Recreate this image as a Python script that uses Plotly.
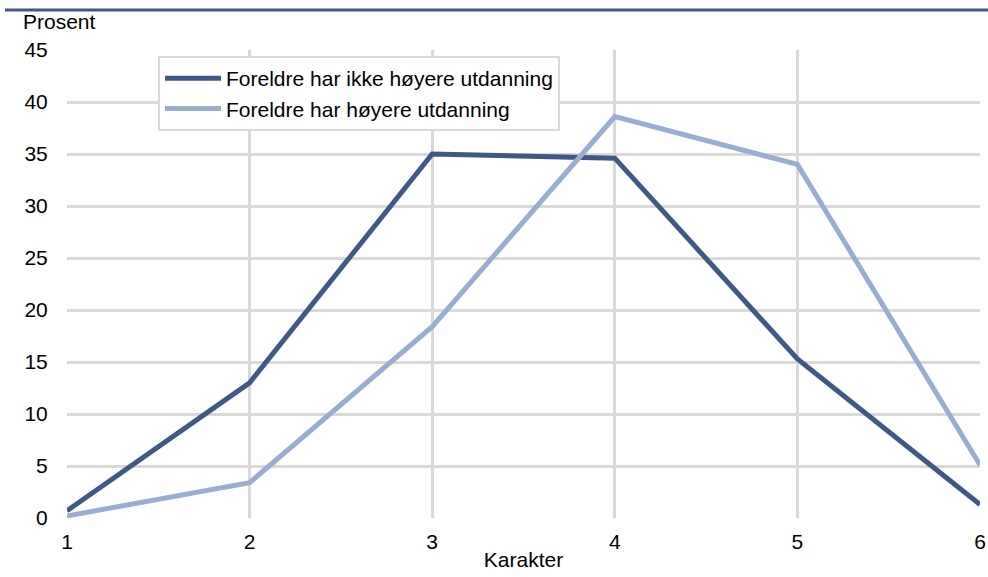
import plotly.graph_objects as go

karakter = [1, 2, 3, 4, 5, 6]
ikke_hoyere = [0.7, 13.0, 35.0, 34.6, 15.3, 1.3]
hoyere = [0.2, 3.4, 18.4, 38.6, 34.0, 5.1]
y_ticks = [0, 5, 10, 15, 20, 25, 30, 35, 40, 45]

dark = "#3f5984"
light = "#98add0"
grid = "#d9d9d9"
font = "Liberation Sans, Arial, sans-serif"
fs = 21

fig = go.Figure()
fig.add_trace(go.Scatter(x=karakter, y=ikke_hoyere, mode="lines",
                         name="Foreldre har ikke høyere utdanning",
                         line=dict(color=dark, width=5), cliponaxis=False))
fig.add_trace(go.Scatter(x=karakter, y=hoyere, mode="lines",
                         name="Foreldre har høyere utdanning",
                         line=dict(color=light, width=5), cliponaxis=False))

W, H = 988, 577
L, R, T, B = 67, 8, 50, 59
pw, ph = W - L - R, H - T - B

fig.update_layout(
    width=W, height=H,
    margin=dict(l=L, r=R, t=T, b=B, pad=0, autoexpand=False),
    paper_bgcolor="white", plot_bgcolor="white",
    font=dict(family=font, size=fs, color="#000000"),
    showlegend=True,
    legend=dict(x=(158 - L) / pw, y=(H - B - 56) / ph, xanchor="left", yanchor="top",
                bordercolor=grid, borderwidth=2, bgcolor="white",
                font=dict(size=fs), tracegroupgap=0, itemwidth=56),
    xaxis=dict(range=[1, 6], tickvals=karakter, showgrid=True, gridcolor=grid, gridwidth=3,
               zeroline=False, showline=False, ticks="outside", ticklen=5, tickcolor="rgba(0,0,0,0)",
               automargin=False,
               title=dict(text="Karakter", font=dict(size=fs), standoff=0)),
    yaxis=dict(range=[0, 45], tickvals=y_ticks, showgrid=True, gridcolor=grid, gridwidth=3,
               zeroline=False, showline=False, ticks="outside", ticklen=14, tickcolor="rgba(0,0,0,0)",
               automargin=False),
    shapes=[dict(type="line", xref="paper", yref="paper",
                 x0=(5 - L) / pw, x1=(990 - L) / pw,
                 y0=(H - B - 10) / ph, y1=(H - B - 10) / ph,
                 line=dict(color="#3f5984", width=3))],
    annotations=[dict(text="Prosent", xref="paper", yref="paper",
                      x=(21 - L) / pw, y=(H - B - 22) / ph, xanchor="left", yanchor="middle",
                      showarrow=False, font=dict(size=fs))],
)

fig.write_html("out.html", config={"displayModeBar": False},
               post_script="document.body.style.margin='0';document.body.style.overflow='hidden';")
